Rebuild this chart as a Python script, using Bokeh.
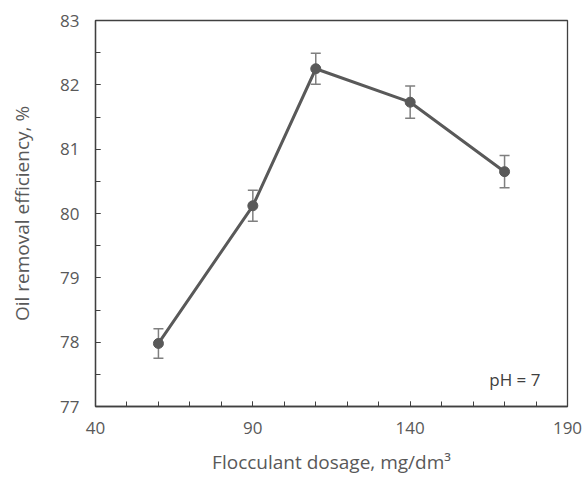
from bokeh.plotting import figure
from bokeh.models import Range1d, Whisker, ColumnDataSource, Label, FixedTicker, TeeHead
from bokeh.embed import file_html
from bokeh.resources import INLINE

dosage = [60, 90, 110, 140, 170]
efficiency = [77.98, 80.12, 82.25, 81.73, 80.65]
err = [0.23, 0.24, 0.24, 0.25, 0.25]
x_ticks = [40, 90, 140, 190]
y_ticks = [77, 78, 79, 80, 81, 82, 83]

FONT = "Open Sans"
TXT = "#595959"
AX = "#404040"

src = ColumnDataSource(dict(
    x=dosage, y=efficiency,
    upper=[v + e for v, e in zip(efficiency, err)],
    lower=[v - e for v, e in zip(efficiency, err)],
))

p = figure(width=584, height=477, output_backend="svg", toolbar_location=None,
           x_range=Range1d(40, 190), y_range=Range1d(77, 83))
p.min_border_left = 95
p.min_border_right = 17
p.min_border_top = 20
p.min_border_bottom = 69
p.outline_line_color = AX
p.outline_line_width = 1.3
p.xgrid.visible = False
p.ygrid.visible = False
p.background_fill_color = "white"
p.border_fill_color = "white"

for ax in (p.xaxis[0], p.yaxis[0]):
    ax.axis_line_color = AX
    ax.axis_line_width = 1.3
    ax.major_tick_line_color = AX
    ax.minor_tick_line_color = AX
    ax.major_tick_in = 5
    ax.major_tick_out = 0
    ax.minor_tick_in = 5
    ax.minor_tick_out = 0
    ax.major_label_text_font = FONT
    ax.major_label_text_font_size = "17px"
    ax.major_label_text_color = TXT
    ax.axis_label_text_font = FONT
    ax.axis_label_text_font_size = "19px"
    ax.axis_label_text_color = TXT
    ax.axis_label_text_font_style = "normal"

p.xaxis.ticker = FixedTicker(ticks=x_ticks, minor_ticks=list(range(40, 191, 10)))
p.yaxis.ticker = FixedTicker(ticks=y_ticks, minor_ticks=[77 + 0.5 * i for i in range(13)])
p.xaxis.axis_label = "Flocculant dosage, mg/dm³"
p.yaxis.axis_label = "Oil removal efficiency, %"
p.xaxis.major_label_standoff = 15
p.yaxis.major_label_standoff = 16
p.xaxis.axis_label_standoff = 12
p.yaxis.axis_label_standoff = 22

wh = Whisker(source=src, base="x", upper="upper", lower="lower",
             line_color="#7f7f7f", line_width=1.5)
wh.upper_head = TeeHead(size=10, line_color="#7f7f7f", line_width=1.5)
wh.lower_head = TeeHead(size=10, line_color="#7f7f7f", line_width=1.5)
p.add_layout(wh)

p.line("x", "y", source=src, line_color="#595959", line_width=3)
p.scatter("x", "y", source=src, size=10, fill_color="#595959", line_color="#595959")

p.add_layout(Label(x=181.4, y=77.42, text="pH = 7", text_align="right",
                   text_baseline="middle", text_font=FONT, text_font_size="17px",
                   text_color="#404040"))

open("out.html", "w").write(file_html(p, INLINE))
